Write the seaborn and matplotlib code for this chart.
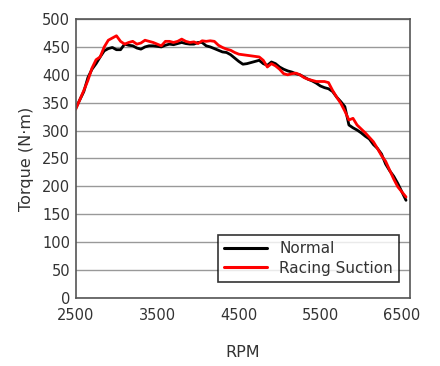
import matplotlib
matplotlib.use("Agg")
import matplotlib.pyplot as plt
import seaborn as sns
import pandas as pd
import numpy as np

rpm = list(range(2500, 6551, 50))
normal = [340, 355, 370, 395, 410, 420, 432, 443, 447, 449,
          445, 445, 455, 453, 452, 448, 446, 450, 452, 452,
          451, 450, 453, 455, 454, 456, 458, 456, 455, 455,
          458, 458, 452, 450, 447, 444, 441, 440, 436, 430,
          424, 419, 420, 422, 424, 426, 420, 417, 423, 420,
          414, 410, 407, 405, 402, 400, 396, 392, 389, 385,
          380, 377, 375, 370, 360, 352, 343, 310, 305, 301,
          296, 290, 285, 275, 268, 258, 240, 228, 218, 205,
          190, 175]
racing = [338, 355, 372, 390, 412, 427, 432, 450, 462, 466,
          470, 460, 455, 458, 460, 455, 457, 462, 460, 458,
          455, 452, 460, 460, 458, 460, 464, 460, 458, 459,
          456, 461, 460, 461, 460, 453, 449, 446, 444, 440,
          437, 436, 435, 434, 433, 432, 426, 414, 420, 416,
          410, 402, 400, 402, 403, 400, 395, 392, 390, 388,
          388, 388, 386, 372, 360, 349, 335, 319, 322, 310,
          303, 296, 288, 280, 268, 255, 245, 229, 213, 199,
          190, 181]
series_names = ["Normal", "Racing Suction"]
x_ticks = [2500, 3500, 4500, 5500, 6500]
y_ticks = list(range(0, 501, 50))

df = pd.DataFrame({
    "RPM": rpm * 2,
    "Torque": normal + racing,
    "Series": [series_names[0]] * len(rpm) + [series_names[1]] * len(rpm),
})

sns.set_style("white")
plt.rcParams['font.family'] = ['DejaVu Sans']

fig = plt.figure(figsize=(4.4, 3.66), dpi=100)
ax = fig.add_axes([0.172, 0.186, 0.760, 0.762])

sns.lineplot(data=df, x="RPM", y="Torque", hue="Series",
             palette={"Normal": "#000000", "Racing Suction": "#ff0000"},
             linewidth=2.0, ax=ax, legend=True)

ax.set_xlim(2500, 6600)
ax.set_ylim(0, 500)
ax.set_xticks(x_ticks)
ax.set_yticks(y_ticks)
ax.yaxis.grid(True, color="#999999", linewidth=1.0)
ax.set_axisbelow(True)
ax.tick_params(axis="x", direction="in", length=4, color="#aaaaaa",
               labelsize=10.5, labelcolor="#333333", pad=7)
ax.tick_params(axis="y", length=0, labelsize=10.5, labelcolor="#333333", pad=4)
for s in ax.spines.values():
    s.set_color("#555555")
    s.set_linewidth(1.2)
    s.set_visible(True)
ax.set_xlabel("RPM", fontsize=11.5, color="#333333", labelpad=16)
ax.set_ylabel("Torque (N·m)", fontsize=11.5, color="#333333", labelpad=6)

leg = ax.legend(loc="lower right", bbox_to_anchor=(0.99, 0.03), frameon=True,
                fancybox=False, edgecolor="#000000", fontsize=11,
                handlelength=2.8, borderpad=0.4, labelspacing=0.3)
leg.get_frame().set_linewidth(1.2)
for line in leg.get_lines():
    line.set_linewidth(2.2)
for t in leg.get_texts():
    t.set_color("#333333")

fig.savefig("out.png", dpi=100)
